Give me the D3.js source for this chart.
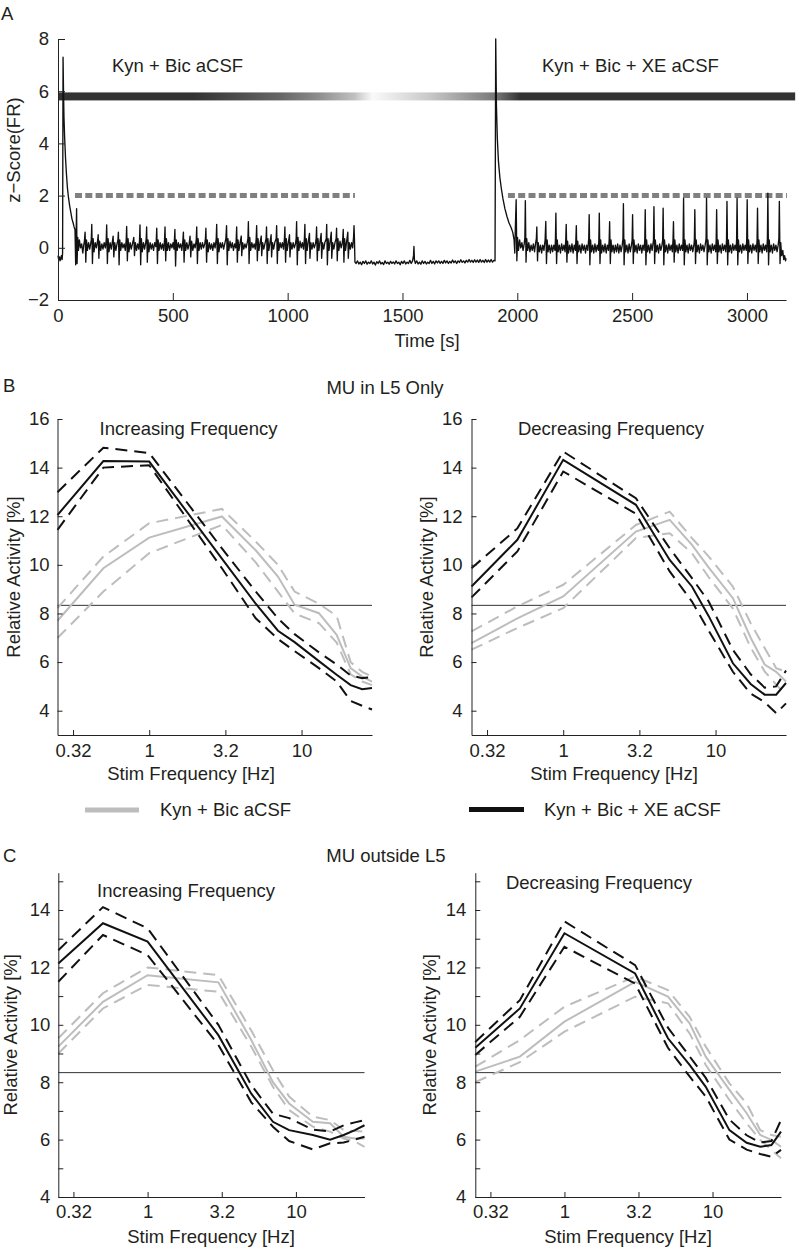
<!DOCTYPE html>
<html><head><meta charset="utf-8">
<script src="https://cdn.jsdelivr.net/npm/d3@7"></script>
<style>
body{margin:0;background:#fff}
text{font-family:"Liberation Sans",Arial,sans-serif;fill:#231f20}
</style></head>
<body><svg id="c" width="796" height="1248"></svg>
<script>
// ---------------- DATA ----------------
// Panel A: z-score trace [time s, z]
const traceA = [[0,-0.3],[3,-0.45],[6,-0.35],[9,-0.5],[12,-0.4],[15,-0.3],[18,-0.45],[20,-0.2],[22,7.3],[24,6.0],[26,5.0],[29,4.2],[33,3.4],[37,2.8],[41,2.3],[46,1.9],[51,1.6],[56,1.35],[61,1.1],[66,0.95],[70,0.8],[74,0.7],[77,-0.65],
[79,0.5],[81,1.5],[83,-0.6],[86,0.4],[89,-0.1],[93,0.3],[98,0.0],[103,0.15],[108,-0.2],[112,0.1],[115,0.25],
[118,0.6],[121,-0.55],[124,0.3],[128,-0.1],[133,0.2],[138,-0.05],[142,0.15],[145,0.3],
[147,0.9],[150,-0.6],[153,0.35],[157,-0.15],[162,0.2],[167,0.0],[171,0.2],[173,0.3],
[175,0.5],[178,-0.4],[181,0.25],[186,-0.1],[191,0.15],[196,-0.05],[201,0.2],[206,0.0],[210,0.3],
[212,0.88],[215,-0.6],[218,0.35],[222,-0.15],[227,0.2],[232,-0.05],[237,0.25],
[240,0.45],[243,-0.35],[247,0.2],[252,-0.1],[257,0.15],[261,0.3],
[263,0.6],[266,-0.65],[269,0.3],[273,-0.1],[278,0.2],[283,0.0],[288,0.15],[293,-0.1],[297,0.3],
[299,0.82],[302,-0.5],[305,0.35],[309,-0.15],[314,0.2],[319,-0.05],[324,0.15],[328,0.3],
[330,0.4],[333,-0.3],[337,0.2],[342,-0.1],[347,0.15],[352,-0.05],[355,0.3],
[357,0.88],[360,-0.65],[363,0.35],[367,-0.15],[372,0.2],[377,-0.05],[382,0.2],[384,0.35],
[386,0.8],[389,-0.55],[392,0.3],[396,-0.15],[401,0.2],[406,-0.05],[411,0.15],[416,-0.1],[421,0.2],[426,0.05],[428,0.3],
[430,0.75],[433,-0.6],[436,0.3],[440,-0.1],[445,0.2],[450,-0.05],[455,0.15],[460,-0.1],[464,0.3],
[466,0.8],[469,-0.5],[472,0.35],[476,-0.1],[481,0.2],[486,-0.1],[491,0.15],[496,0.0],[501,0.2],[505,-0.05],[507,0.3],
[509,0.7],[512,-0.7],[515,0.3],[519,-0.1],[524,0.2],[529,0.0],[534,0.15],[539,-0.1],[544,0.3],
[546,0.6],[549,-0.55],[552,0.3],[556,-0.1],[561,0.2],[566,-0.05],[571,0.15],[573,0.3],
[575,0.45],[578,-0.35],[582,0.25],[587,-0.1],[592,0.15],[597,0.0],[602,0.3],
[604,0.8],[607,-0.6],[610,0.35],[614,-0.1],[619,0.2],[624,-0.05],[629,0.2],[634,0.0],[639,0.15],[642,0.35],
[644,0.75],[647,-0.55],[650,0.3],[654,-0.15],[659,0.2],[664,-0.05],[669,0.15],[674,-0.1],[679,0.2],[684,0.0],[689,0.35],
[691,0.9],[694,-0.6],[697,0.35],[701,-0.15],[706,0.2],[711,0.0],[716,0.2],[721,-0.05],[726,0.15],[731,0.35],
[734,0.85],[737,-0.65],[740,0.35],[744,-0.1],[749,0.25],[754,0.0],[759,0.2],[764,-0.1],[769,0.15],[774,0.0],[776,0.35],
[778,0.8],[781,-0.55],[784,0.3],[788,-0.1],[793,0.2],[798,0.45],[800,-0.3],[804,0.2],[809,-0.05],[814,0.15],[819,0.0],[824,0.2],[827,0.35],
[829,1.0],[832,-0.6],[835,0.4],[839,-0.1],[844,0.2],[849,0.0],[854,0.15],[859,-0.05],[863,0.35],
[865,0.85],[868,-0.5],[871,0.35],[875,-0.1],[880,0.2],[885,0.45],[887,-0.3],[891,0.2],[896,-0.05],[901,0.15],[906,0.35],
[908,0.8],[911,-0.6],[914,0.35],[918,-0.1],[923,0.2],[928,0.5],[930,-0.35],[934,0.2],[939,-0.05],[944,0.2],[950,0.35],
[952,0.85],[955,-0.6],[958,0.35],[962,-0.1],[967,0.2],[972,0.0],[977,0.2],[982,-0.05],[986,0.35],
[988,0.8],[991,-0.55],[994,0.35],[998,-0.1],[1003,0.2],[1008,0.5],[1010,-0.35],[1014,0.2],[1019,-0.05],[1024,0.2],[1029,0.0],[1034,0.15],[1037,0.35],
[1039,1.0],[1042,-0.65],[1045,0.4],[1049,-0.1],[1054,0.25],[1059,0.0],[1064,0.2],[1069,-0.05],[1073,0.35],
[1075,0.9],[1078,-0.6],[1081,0.35],[1085,-0.1],[1090,0.25],[1095,0.55],[1097,-0.4],[1101,0.2],[1106,-0.05],[1111,0.2],[1116,0.0],[1121,0.15],[1124,0.35],
[1126,0.8],[1129,-0.5],[1132,0.35],[1136,-0.1],[1141,0.25],[1146,0.55],[1148,-0.4],[1152,0.2],[1157,-0.05],[1162,0.2],[1168,0.35],
[1170,0.9],[1173,-0.65],[1176,0.35],[1180,-0.1],[1185,0.25],[1190,0.6],[1192,-0.4],[1196,0.2],[1201,-0.05],[1206,0.2],[1211,0.35],
[1213,0.75],[1216,-0.5],[1219,0.35],[1223,-0.1],[1228,0.25],[1233,0.0],[1238,0.2],[1240,0.35],
[1242,0.7],[1245,-0.55],[1248,0.35],[1252,-0.1],[1257,0.25],[1262,0.6],[1264,-0.4],[1268,0.2],[1273,-0.05],[1278,0.2],[1283,0.0],[1287,0.4],
[1289,0.85],[1291,0.3],[1293,-0.55],
[1298,-0.6],[1304,-0.5],[1310,-0.62],[1316,-0.55],[1322,-0.65],[1328,-0.52],[1334,-0.6],[1340,-0.5],[1346,-0.63],[1352,-0.55],[1358,-0.6],[1364,-0.5],[1370,-0.62],[1376,-0.55],[1382,-0.66],[1388,-0.53],[1394,-0.6],[1400,-0.5],[1406,-0.62],[1412,-0.56],[1418,-0.64],[1424,-0.5],[1430,-0.6],[1436,-0.55],[1442,-0.63],[1448,-0.52],[1454,-0.6],[1460,-0.54],[1466,-0.62],[1472,-0.5],[1478,-0.6],[1484,-0.55],[1490,-0.65],[1496,-0.52],[1502,-0.6],[1508,-0.5],[1514,-0.62],[1520,-0.55],[1526,-0.6],[1532,-0.48],[1538,-0.6],[1544,-0.5],[1548,-0.3],[1550,0.05],[1552,-0.45],[1556,-0.6],[1562,-0.5],[1568,-0.62],[1574,-0.55],[1580,-0.63],[1586,-0.5],[1592,-0.6],[1598,-0.52],[1604,-0.62],[1610,-0.55],[1616,-0.6],[1622,-0.48],[1628,-0.6],[1634,-0.52],[1640,-0.62],[1646,-0.5],[1652,-0.58],[1658,-0.5],[1664,-0.6],[1670,-0.52],[1676,-0.6],[1682,-0.48],[1688,-0.58],[1694,-0.5],[1700,-0.6],[1706,-0.52],[1712,-0.58],[1718,-0.47],[1724,-0.57],[1730,-0.5],[1736,-0.6],[1742,-0.5],[1748,-0.56],[1754,-0.46],[1760,-0.56],[1766,-0.5],[1772,-0.58],[1778,-0.48],[1784,-0.55],[1790,-0.45],[1796,-0.55],[1802,-0.48],[1808,-0.56],[1814,-0.46],[1820,-0.55],[1826,-0.47],[1832,-0.56],[1838,-0.45],[1844,-0.55],[1850,-0.48],[1856,-0.56],[1862,-0.45],[1868,-0.55],[1874,-0.47],[1880,-0.55],[1886,-0.45],[1892,-0.55],[1898,-0.48],[1903,-0.5],
[1906,8.0],[1909,5.5],[1913,4.2],[1918,3.3],[1924,2.7],[1930,2.3],[1937,1.9],[1946,1.5],[1955,1.2],[1964,0.95],[1972,0.8],[1980,0.6],[1986,0.3],[1989,-0.2],[1991,0.6],
[1995,1.84],[1998,-0.5],[2001,0.4],[2005,-0.1],[2010,0.3],[2015,0.0],[2020,0.2],[2025,-0.1],[2030,0.15],[2033,0.4],
[2035,1.81],[2038,-0.55],[2041,0.35],[2045,-0.1],[2050,0.2],[2055,-0.15],[2060,0.1],[2065,-0.1],[2070,0.15],[2075,-0.15],[2080,0.2],[2083,0.35],
[2085,0.8],[2088,-0.5],[2091,0.2],[2096,-0.15],[2101,0.1],[2106,-0.2],[2111,0.1],[2116,-0.1],[2121,0.3],
[2124,1.01],[2127,-0.6],[2130,0.3],[2134,-0.15],[2139,0.1],[2144,-0.2],[2149,0.1],[2154,-0.15],[2159,0.1],[2164,-0.1],[2166,0.3],
[2168,1.33],[2171,-0.6],[2174,0.3],[2178,-0.15],[2183,0.1],[2188,-0.2],[2193,0.15],[2198,-0.1],[2203,0.1],[2208,-0.15],[2211,0.3],
[2213,0.9],[2216,-0.55],[2219,0.25],[2223,-0.2],[2228,0.1],[2233,-0.15],[2238,0.15],[2243,-0.2],[2248,0.1],[2253,-0.1],[2255,0.3],
[2257,0.85],[2260,-0.6],[2263,0.25],[2267,-0.15],[2272,0.1],[2277,-0.2],[2282,0.15],[2287,-0.1],[2292,0.1],[2297,-0.2],[2302,0.1],[2307,-0.1],[2311,0.35],
[2313,1.27],[2316,-0.65],[2319,0.3],[2323,-0.15],[2328,0.1],[2333,-0.2],[2338,0.15],[2343,-0.15],[2348,0.1],[2353,-0.1],[2355,0.3],
[2357,1.33],[2360,-0.6],[2363,0.3],[2367,-0.2],[2372,0.1],[2377,-0.15],[2382,0.15],[2387,-0.2],[2392,0.1],[2397,-0.1],[2400,0.3],
[2402,1.0],[2405,-0.6],[2408,0.3],[2412,-0.15],[2417,0.1],[2422,-0.2],[2427,0.1],[2432,-0.15],[2437,0.15],[2442,-0.2],[2447,0.1],[2452,-0.15],[2457,0.1],[2460,0.35],
[2462,1.69],[2465,-0.65],[2468,0.3],[2472,-0.15],[2477,0.1],[2482,-0.2],[2487,0.15],[2492,-0.15],[2497,0.1],[2500,0.3],
[2502,1.27],[2505,-0.6],[2508,0.3],[2512,-0.15],[2517,0.1],[2522,-0.2],[2527,0.15],[2532,-0.1],[2537,0.1],[2542,-0.2],[2547,0.1],[2552,-0.1],[2555,0.3],
[2557,1.46],[2560,-0.65],[2563,0.3],[2567,-0.15],[2572,0.1],[2577,-0.2],[2582,0.15],[2587,-0.1],[2593,0.3],
[2595,1.58],[2598,-0.6],[2601,0.3],[2605,-0.15],[2610,0.1],[2615,-0.2],[2620,0.15],[2625,-0.1],[2630,0.1],[2633,0.3],
[2635,1.52],[2638,-0.65],[2641,0.3],[2645,-0.15],[2650,0.1],[2655,-0.2],[2660,0.15],[2665,-0.1],[2670,0.1],[2675,-0.15],[2678,0.3],
[2680,1.0],[2683,-0.55],[2686,0.3],[2690,-0.15],[2695,0.1],[2700,-0.2],[2705,0.15],[2710,-0.1],[2715,0.1],[2720,-0.1],[2722,0.35],
[2724,1.9],[2727,-0.65],[2730,0.3],[2734,-0.15],[2739,0.1],[2744,-0.2],[2749,0.15],[2754,-0.1],[2759,0.1],[2764,-0.15],[2769,0.1],[2771,0.3],
[2773,1.46],[2776,-0.6],[2779,0.3],[2783,-0.15],[2788,0.1],[2793,-0.2],[2798,0.15],[2803,-0.1],[2808,0.1],[2813,-0.15],[2818,0.1],[2822,0.35],
[2824,1.9],[2827,-0.65],[2830,0.3],[2834,-0.15],[2839,0.1],[2844,-0.2],[2849,0.15],[2854,-0.1],[2859,0.1],[2864,-0.15],[2866,0.3],
[2868,1.46],[2871,-0.6],[2874,0.3],[2878,-0.15],[2883,0.1],[2888,-0.2],[2893,0.15],[2898,-0.1],[2903,0.1],[2908,-0.15],[2911,0.3],
[2913,1.78],[2916,-0.65],[2919,0.3],[2923,-0.15],[2928,0.1],[2933,-0.2],[2938,0.15],[2943,-0.1],[2948,0.1],[2953,-0.1],[2955,0.35],
[2957,1.9],[2960,-0.65],[2963,0.3],[2967,-0.15],[2972,0.1],[2977,-0.2],[2982,0.15],[2987,-0.1],[2992,0.1],[2997,-0.1],[2999,0.35],
[3001,1.84],[3004,-0.6],[3007,0.3],[3011,-0.15],[3016,0.1],[3021,-0.2],[3026,0.15],[3031,-0.1],[3036,0.1],[3041,-0.15],[3044,0.3],
[3046,1.52],[3049,-0.6],[3052,0.3],[3056,-0.15],[3061,0.1],[3066,-0.2],[3071,0.15],[3076,-0.1],[3081,0.1],[3086,-0.15],[3089,0.35],
[3091,2.09],[3094,-0.65],[3097,0.3],[3101,-0.15],[3106,0.1],[3111,-0.2],[3116,0.15],[3121,-0.1],[3126,0.1],[3131,-0.15],[3136,0.1],[3139,0.35],
[3141,1.78],[3144,-0.6],[3147,0.2],[3151,-0.3],[3156,-0.1],[3160,-0.45],[3164,-0.3],[3168,-0.5],[3170,-0.4]];

const timeTicks = [0,500,1000,1500,2000,2500,3000];
const zTicks = [-2,0,2,4,6,8];
const thresholdZ = 2;
const thresholdSpans = [[74,1293],[1959,3174]];
const barZ = 5.8;
const barStopTimes = [0,590,966,1123,1290,1370,1620,1907,2011,3210];
const barStopGrays = ["#333","#333","#666","#8a8a8a","#c0c0c0","#fafafa","#c8c8c8","#777","#333","#333"];
const conditionLabels = ["Kyn + Bic aCSF","Kyn + Bic + XE aCSF"];

// Panels B and C: stimulation frequencies (Hz) and relative activity (%)
const freqs = [0.25,0.5,1,3,5,7,9,13,17,21,25,29];
const freqTicks = [0.3162,1,3.162,10];
const freqTickLabels = ["0.32","1","3.2","10"];
const chanceLevel = 100/12;

const bIncXeMean  = [12.05,14.27,14.25,10.26,8.4,7.29,6.82,6.04,5.48,5.05,4.88,4.93];
const bIncXeUpper = [12.99,14.82,14.6,10.68,8.9,7.8,7.15,6.4,5.9,5.45,5.34,5.38];
const bIncXeLower = [11.44,14.0,14.1,9.86,7.8,6.95,6.45,5.75,5.2,4.4,4.2,4.05];
const bIncCtMean  = [7.7,9.86,11.12,11.99,10.6,9.52,8.36,8.01,7.12,5.75,5.4,5.2];
const bIncCtUpper = [8.22,10.34,11.71,12.3,10.96,10.0,8.9,8.4,7.9,6.0,5.6,5.4];
const bIncCtLower = [6.99,8.9,10.48,11.64,10.1,8.9,8.0,7.6,6.8,5.5,5.2,5.05];

const bDecXeMean  = [9.11,11.03,14.32,12.47,10.2,9.11,7.9,5.95,5.1,4.66,4.66,5.14];
const bDecXeUpper = [9.86,11.5,14.66,12.74,10.68,9.45,8.5,6.5,5.5,4.95,5.0,5.65];
const bDecXeLower = [8.66,10.55,13.84,12.1,9.73,8.49,7.3,5.6,4.7,4.35,3.9,4.3];
const bDecCtMean  = [6.78,7.8,8.7,11.37,11.85,10.82,9.9,8.63,7.0,5.9,5.6,5.2];
const bDecCtUpper = [7.26,8.29,9.18,11.64,12.19,11.1,10.35,9.1,7.6,6.58,5.75,5.6];
const bDecCtLower = [6.51,7.4,8.22,11.1,11.3,10.48,9.5,8.2,6.6,5.62,5.07,4.66];

const cIncXeMean  = [12.14,13.54,12.9,9.64,7.6,6.62,6.33,6.16,6.0,6.16,6.33,6.5];
const cIncXeUpper = [12.6,14.1,13.36,10.0,7.9,6.9,6.75,6.35,6.28,6.5,6.6,6.68];
const cIncXeLower = [11.5,13.13,12.43,9.3,7.3,6.45,5.95,5.66,5.87,5.9,6.0,6.1];
const cIncCtMean  = [9.24,10.8,11.73,11.48,9.47,8.0,7.26,6.62,6.57,6.1,6.04,6.04];
const cIncCtUpper = [9.53,11.1,12.0,11.73,9.8,8.42,7.5,6.8,6.68,6.33,6.3,6.28];
const cIncCtLower = [9.0,10.57,11.39,11.15,9.24,7.84,7.03,6.45,6.28,6.04,5.93,5.75];

const cDecXeMean  = [9.2,10.57,13.19,11.79,9.53,8.6,7.84,6.33,5.89,5.75,5.81,6.28];
const cDecXeUpper = [9.4,10.86,13.6,12.08,9.9,8.9,8.15,6.7,6.15,5.9,5.95,6.68];
const cDecXeLower = [8.95,10.28,12.72,11.44,9.2,8.2,7.5,6.0,5.65,5.5,5.4,5.64];
const cDecCtMean  = [8.37,8.89,10.11,11.5,10.98,10.05,8.89,7.73,6.92,6.16,5.99,5.75];
const cDecCtUpper = [8.54,9.47,10.63,11.68,11.21,10.28,9.24,7.96,7.26,6.33,6.16,6.1];
const cDecCtLower = [8.0,8.7,9.76,10.98,10.75,9.7,8.6,7.38,6.57,5.99,5.64,5.35];

// ---------------- DRAW ----------------
const svg = d3.select("#c");
const FS = "18.5px";
const AX = "#222";
const GRAY = "#bdbdbd";

function styleAxis(g){
  g.attr("font-size",null).attr("font-family",null);
  g.select("path.domain").attr("stroke",AX).attr("stroke-width",1);
  g.selectAll(".tick line").attr("stroke",AX).attr("stroke-width",1);
  g.selectAll(".tick text").attr("fill","#231f20").style("font-size",FS);
}
function label(x,y,txt,anchor,rot){
  const t = svg.append("text").attr("x",x).attr("y",y).attr("text-anchor",anchor||"middle").style("font-size",FS).text(txt);
  if(rot) t.attr("transform",`rotate(${rot},${x},${y})`);
  return t;
}

// ---- Panel A ----
const xA = d3.scaleLinear().domain([0,3170]).range([58,786]);
const yA = d3.scaleLinear().domain([-2,8]).range([300,39]);

const defs = svg.append("defs");
const grad = defs.append("linearGradient").attr("id","barGrad")
  .attr("gradientUnits","userSpaceOnUse")
  .attr("x1",xA(barStopTimes[0])).attr("x2",xA(barStopTimes[barStopTimes.length-1]))
  .attr("y1",0).attr("y2",0);
const span = barStopTimes[barStopTimes.length-1]-barStopTimes[0];
barStopTimes.forEach((t,i)=>grad.append("stop").attr("offset",(t-barStopTimes[0])/span).attr("stop-color",barStopGrays[i]));
svg.append("rect").attr("x",xA(barStopTimes[0])).attr("width",xA(barStopTimes[barStopTimes.length-1])-xA(barStopTimes[0]))
  .attr("y",yA(barZ)-4).attr("height",8).attr("fill","url(#barGrad)");

thresholdSpans.forEach(s=>{
  svg.append("line").attr("x1",xA(s[0])).attr("x2",xA(s[1])).attr("y1",yA(thresholdZ)).attr("y2",yA(thresholdZ))
    .attr("stroke","#808080").attr("stroke-width",5).attr("stroke-dasharray","7,3.3");
});

svg.append("path").datum(traceA)
  .attr("d",d3.line().x(d=>xA(d[0])).y(d=>yA(d[1])))
  .attr("fill","none").attr("stroke","#111").attr("stroke-width",1.35).attr("stroke-linejoin","round");

svg.append("g").attr("transform","translate(0,300)")
  .call(d3.axisBottom(xA).tickValues(timeTicks).tickSizeInner(-7).tickSizeOuter(0).tickPadding(9).tickFormat(d=>String(d)))
  .call(styleAxis);
svg.append("g").attr("transform","translate(58,0)")
  .call(d3.axisLeft(yA).tickValues(zTicks).tickSizeInner(-7).tickSizeOuter(0).tickPadding(9).tickFormat(d=>d<0?"\u2212"+Math.abs(d):String(d)))
  .call(styleAxis);

label(1,20,"A","start");
label(112,72,conditionLabels[0],"start");
label(542,72,conditionLabels[1],"start");
label(427,347,"Time [s]");
label(20,150,"z\u2212Score(FR)","middle",-90);

// ---- curve panels ----
function curvePanel(o){
  const x = d3.scaleLog().domain([0.25,29]).range([o.x0,o.x1]);
  const y = d3.scaleLinear().domain(o.ydom).range([o.yb,o.yt]);
  const line = d3.line().x((d,i)=>x(freqs[i])).y(d=>y(d));
  svg.append("line").attr("x1",o.x0).attr("x2",o.x1).attr("y1",y(chanceLevel)).attr("y2",y(chanceLevel))
    .attr("stroke","#333").attr("stroke-width",1);
  const sets = [[o.ct,GRAY],[o.xe,"#111"]];
  sets.forEach(([s,col])=>{
    [s[1],s[2]].forEach(arr=>svg.append("path").attr("d",line(arr)).attr("fill","none").attr("stroke",col)
      .attr("stroke-width",2).attr("stroke-dasharray","12,7"));
    svg.append("path").attr("d",line(s[0])).attr("fill","none").attr("stroke",col).attr("stroke-width",2);
  });
  svg.append("g").attr("transform",`translate(0,${o.yb})`)
    .call(d3.axisBottom(x).tickValues(freqTicks).tickSizeInner(-5).tickSizeOuter(0).tickPadding(o.xpad)
      .tickFormat((d,i)=>freqTickLabels[i]))
    .call(styleAxis);
  svg.append("g").attr("transform",`translate(${o.x0},0)`)
    .call(d3.axisLeft(y).tickValues(o.yticks).tickSizeInner(-5).tickSizeOuter(0).tickPadding(o.ypad)
      .tickFormat(d=>d%2===0?String(d):""))
    .call(styleAxis);
  label(o.titleX,o.titleY,o.title);
  label(o.xlabX,o.xlabY,"Stim Frequency [Hz]");
  label(o.ylabX,(o.yb+o.yt)/2,"Relative Activity [%]","middle",-90);
}

const yTicksB = [4,6,8,10,12,14,16];
const yTicksC = [4,5,6,7,8,9,10,11,12,13,14,15];
curvePanel({x0:57.5,x1:372,yb:735,yt:419,ydom:[3,16],yticks:yTicksB,xpad:9,ypad:8,
  xe:[bIncXeMean,bIncXeUpper,bIncXeLower],ct:[bIncCtMean,bIncCtUpper,bIncCtLower],
  title:"Increasing Frequency",titleX:188.5,titleY:435,xlabX:191,xlabY:780,ylabX:20});
curvePanel({x0:471.5,x1:786,yb:735,yt:419,ydom:[3,16],yticks:yTicksB,xpad:9,ypad:9,
  xe:[bDecXeMean,bDecXeUpper,bDecXeLower],ct:[bDecCtMean,bDecCtUpper,bDecCtLower],
  title:"Decreasing Frequency",titleX:611,titleY:435,xlabX:614,xlabY:780,ylabX:433});
curvePanel({x0:58.3,x1:364.5,yb:1197,yt:872.7,ydom:[4,15.3],yticks:yTicksC,xpad:8,ypad:8,
  xe:[cIncXeMean,cIncXeUpper,cIncXeLower],ct:[cIncCtMean,cIncCtUpper,cIncCtLower],
  title:"Increasing Frequency",titleX:186,titleY:897,xlabX:211,xlabY:1243,ylabX:17});
curvePanel({x0:475.3,x1:781,yb:1197,yt:872.7,ydom:[4,15.3],yticks:yTicksC,xpad:8,ypad:9,
  xe:[cDecXeMean,cDecXeUpper,cDecXeLower],ct:[cDecCtMean,cDecCtUpper,cDecCtLower],
  title:"Decreasing Frequency",titleX:599,titleY:889,xlabX:628,xlabY:1243,ylabX:436});

label(3,392,"B","start");
label(385,394,"MU in L5 Only");
label(3,862,"C","start");
label(386,862,"MU outside L5");

// legend
svg.append("line").attr("x1",85).attr("x2",139).attr("y1",810).attr("y2",810).attr("stroke",GRAY).attr("stroke-width",5);
label(160,816,conditionLabels[0],"start");
svg.append("line").attr("x1",469).attr("x2",524).attr("y1",809.5).attr("y2",809.5).attr("stroke","#111").attr("stroke-width",5);
label(544,816,conditionLabels[1],"start");
</script></body></html>
